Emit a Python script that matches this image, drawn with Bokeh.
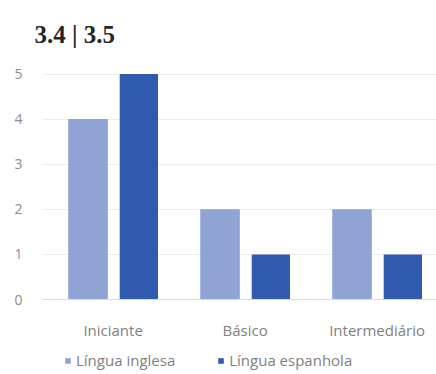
from bokeh.plotting import figure
from bokeh.models import ColumnDataSource, Legend, LegendItem, FixedTicker, Range1d
from bokeh.layouts import column
from bokeh.transform import dodge
from bokeh.embed import file_html
from bokeh.resources import INLINE

categories = ["Iniciante", "Básico", "Intermediário"]
ingles = [4, 2, 2]
espanhol = [5, 1, 1]
series_names = ["Língua inglesa", "Língua espanhola"]
y_ticks = [0, 1, 2, 3, 4, 5]
colors = ["#8fa3d5", "#2f5aae"]

xpos = [i + 0.5 for i in range(len(categories))]
src = ColumnDataSource(dict(x=xpos, ing=ingles, esp=espanhol))

p = figure(width=436, height=342, output_backend="svg", toolbar_location=None,
           x_range=Range1d(-0.035, 2.95), y_range=Range1d(0, 5.3),
           min_border_left=42, min_border_right=0, min_border_top=60, min_border_bottom=40)
p.outline_line_color = None
p.background_fill_color = "white"
p.border_fill_color = "white"

p.vbar(x=dodge("x", -0.19, range=p.x_range), top="ing", width=0.3, source=src,
       fill_color=colors[0], line_color=None)
p.vbar(x=dodge("x", 0.195, range=p.x_range), top="esp", width=0.29, source=src,
       fill_color=colors[1], line_color=None)

p.title.text = "3.4 | 3.5"
p.title.text_font = "Liberation Serif"
p.title.text_font_size = "25px"
p.title.text_font_style = "bold"
p.title.text_color = "#262626"
p.title.offset = -8
p.title.standoff = 26

p.yaxis.ticker = FixedTicker(ticks=y_ticks)
p.yaxis.axis_line_color = None
p.yaxis.major_tick_line_color = None
p.yaxis.minor_tick_line_color = None
p.yaxis.major_label_text_font = "Open Sans"
p.yaxis.major_label_text_font_size = "14px"
p.yaxis.major_label_text_color = "#8c8c8c"
p.yaxis.major_label_standoff = 14

p.xaxis.ticker = FixedTicker(ticks=xpos)
p.xaxis.major_label_overrides = {x: c for x, c in zip(xpos, categories)}
p.xaxis.axis_line_color = "#d9d9d9"
p.xaxis.major_tick_line_color = None
p.xaxis.minor_tick_line_color = None
p.xaxis.major_label_text_font = "Open Sans"
p.xaxis.major_label_text_font_size = "15px"
p.xaxis.major_label_text_color = "#7f7f7f"
p.xaxis.major_label_standoff = 14

p.xgrid.grid_line_color = None
p.ygrid.grid_line_color = "#ececec"

# legend strip below the chart (swatch renderers sit outside the visible range)
p2 = figure(width=436, height=32, output_backend="svg", toolbar_location=None,
            x_range=Range1d(0, 1), y_range=Range1d(0, 1),
            x_axis_type=None, y_axis_type=None, min_border=0)
p2.outline_line_color = None
p2.grid.visible = False
p2.border_fill_color = "white"
l1 = p2.vbar(x=[5], top=[1], width=0.1, fill_color=colors[0], line_color=None)
l2 = p2.vbar(x=[5], top=[1], width=0.1, fill_color=colors[1], line_color=None)

legend = Legend(items=[LegendItem(label=series_names[0], renderers=[l1]),
                       LegendItem(label=series_names[1], renderers=[l2])],
                orientation="horizontal", location=(22, 4))
legend.label_text_font = "Open Sans"
legend.label_text_font_size = "15px"
legend.label_text_color = "#7f7f7f"
legend.glyph_width = 7
legend.glyph_height = 7
legend.spacing = 42
legend.label_standoff = 5
legend.border_line_color = None
legend.background_fill_alpha = 0
legend.padding = 2
legend.margin = 0
legend.label_height = 14
p2.add_layout(legend, "center")

layout = column(p, p2, spacing=0)
open("out.html", "w").write(file_html(layout, INLINE))
